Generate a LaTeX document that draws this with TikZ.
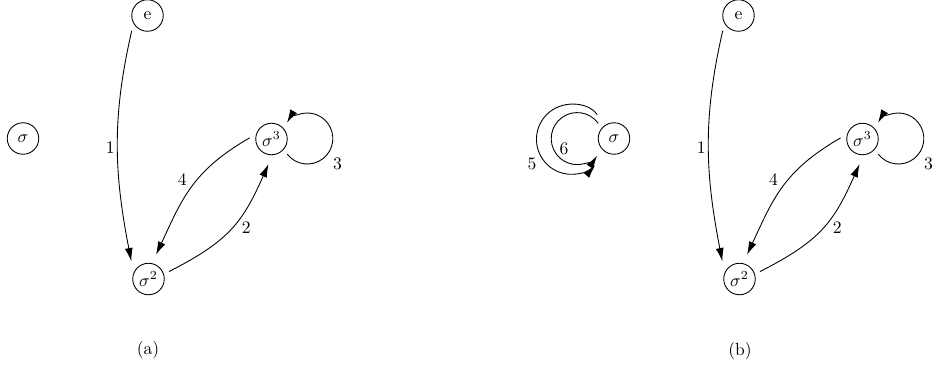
\documentclass[tikz,border=0pt]{standalone}
\usetikzlibrary{arrows.meta}

\begin{document}
\begin{tikzpicture}[
    elem/.style={circle, draw=black, line width=0.5pt, minimum size=0.63cm,
      inner sep=1pt, outer sep=3.5pt},
    flecha/.style={-{Latex[length=7.5pt, width=4.5pt]}, line width=0.5pt,
      shorten >=2pt},
    etiq/.style={inner sep=1.5pt}
  ]
    \useasboundingbox (0, 0) rectangle (18.7, -7.38);

    % Grafo (a)
    \node[elem] (ea) at (2.95, -0.31) {e};
    \node[elem] (sa) at (0.46, -2.77) {$\sigma$};
    \node[elem] (s3a) at (5.43, -2.78) {$\sigma^3$};
    \node[elem] (s2a) at (2.97, -5.58) {$\sigma^2$};
    \node (capa) at (2.96, -7.00) {(a)};

    \draw[flecha] (ea.-136) to[out=-103, in=101]
      node[left, etiq] {1} (s2a.139);
    \draw[flecha] (s2a.20) to[out=27, in=-114, looseness=1.15]
      node[pos=0.5, right=4pt, etiq] {2} (s3a.-94);
    \draw[flecha] (s3a.-44) arc[start angle=-142, end angle=150, radius=0.51cm];
    \node[etiq] (l3a) at (6.75, -3.27) {3};
    \draw[flecha] (s3a.177) to[out=-150, in=65, looseness=1.1]
      node[pos=0.42, left=4.5pt, etiq] {4} (s2a.74);

    % Grafo (b)
    \node[elem] (eb) at (14.77, -0.31) {e};
    \node[elem] (sb) at (12.28, -2.77) {$\sigma$};
    \node[elem] (s3b) at (17.25, -2.78) {$\sigma^3$};
    \node[elem] (s2b) at (14.79, -5.58) {$\sigma^2$};
    \node (capb) at (14.80, -7.02) {(b)};

    \draw[flecha] (eb.-136) to[out=-103, in=101]
      node[left, etiq] {1} (s2b.139);
    \draw[flecha] (s2b.20) to[out=27, in=-114, looseness=1.15]
      node[pos=0.5, right=4pt, etiq] {2} (s3b.-94);
    \draw[flecha] (s3b.-44) arc[start angle=-142, end angle=150, radius=0.51cm];
    \node[etiq] (l3b) at (18.57, -3.27) {3};
    \draw[flecha] (s3b.177) to[out=-150, in=65, looseness=1.1]
      node[pos=0.42, left=4.5pt, etiq] {4} (s2b.74);

    % lazos de sigma
    \draw[flecha, shorten <=4pt] (sb.126)
      arc[start angle=32, end angle=318, radius=0.70cm];
    \node[etiq] (l5) at (10.64, -3.28) {5};
    \draw[flecha] (sb.136) arc[start angle=36, end angle=327, radius=0.52cm];
    \node[etiq] (l6) at (11.28, -2.98) {6};
  \end{tikzpicture}
\end{document}
